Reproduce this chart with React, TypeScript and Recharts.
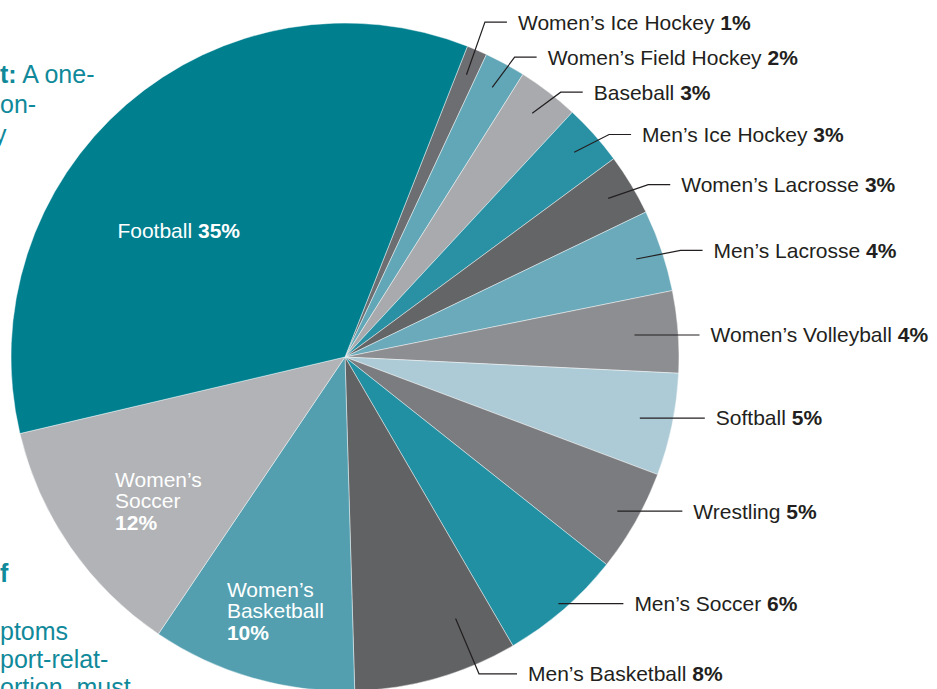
import { PieChart, Pie, Cell } from 'recharts';

// clockwise from the top, starting with the thin slice right of Football
const sports = [
    'Women’s Ice Hockey',
    'Women’s Field Hockey',
    'Baseball',
    'Men’s Ice Hockey',
    'Women’s Lacrosse',
    'Men’s Lacrosse',
    'Women’s Volleyball',
    'Softball',
    'Wrestling',
    'Men’s Soccer',
    'Men’s Basketball',
    'Women’s Basketball',
    'Women’s Soccer',
    'Football',
];
const shares = [1, 2, 3, 3, 3, 4, 4, 5, 5, 6, 8, 10, 12, 35];
const sliceColors = [
    '#6d6e71',
    '#62a7b7',
    '#a8aaad',
    '#2a91a4',
    '#646567',
    '#6aaabb',
    '#8d8e91',
    '#adcbd6',
    '#7b7c7f',
    '#2190a3',
    '#616264',
    '#539fb0',
    '#b1b3b6',
    '#007f8f',
];

// cut-off sidebar text at the left edge of the page
const sideTop = [
    { bold: 't:', rest: ' A one-' },
    { bold: '', rest: 'on-' },
    { bold: '', rest: 'y' },
];
const sideBottom = [
    { bold: 'f', rest: '' },
    { bold: '', rest: 'ptoms' },
    { bold: '', rest: 'port-relat-' },
    { bold: '', rest: 'ortion, must' },
];

const data = sports.map((name, i) => ({ name, value: shares[i] }));

const CX = 345;
const CY = 357;
const R = 334;
const START = 68.5;
const RAD = Math.PI / 180;
const FONT = '"Liberation Sans", Arial, Helvetica, sans-serif';
const INK = '#231f20';
const TEAL = '#10899a';

// how far (clockwise, degrees) a label is nudged off the slice middle
const labelShift: Record<string, number> = {
    Football: -20,
    'Women’s Soccer': 6.6,
    'Women’s Basketball': 10.8,
    'Men’s Basketball': -7,
};

const polar = (r: number, deg: number) => [
    CX + r * Math.cos(-deg * RAD),
    CY + r * Math.sin(-deg * RAD),
];
const clockwise = (mid: number) => (((90 - mid) % 360) + 360) % 360;

// y of each outside label, pushed apart near the top so they don't collide
const total = shares.reduce((a, b) => a + b, 0);
const outerY = (() => {
    let a = START;
    const mids = shares.map((v) => {
        const span = (v / total) * 360;
        const m = a - span / 2;
        a -= span;
        return m;
    });
    const ys = mids.map((m) => polar(R, m)[1]);
    for (let i = ys.length - 2; i >= 0; i--) {
        if (clockwise(mids[i]) < 80 && clockwise(mids[i + 1]) < 80) {
            ys[i] = Math.min(ys[i], ys[i + 1] - 35);
        }
    }
    return ys;
})();

const renderLabel = (props: any) => {
    const { name, value, index } = props;
    const midAngle = props.midAngle - (labelShift[name] ?? 0);
    const cw = clockwise(midAngle);

    if (value >= 10) {
        const [x, y] = polar(R * 0.78, midAngle);
        const words = name.includes(' ') ? name.split(' ') : null;
        if (!words) {
            return (
                <text x={x} y={y} dy="0.35em" fill="#fff" fontSize={21} fontFamily={FONT}>
                    {name} <tspan fontWeight="bold">{value}%</tspan>
                </text>
            );
        }
        return (
            <text x={x} y={y} fill="#fff" fontSize={21} fontFamily={FONT}>
                {words.map((w: string, i: number) => (
                    <tspan key={w} x={x} dy={i === 0 ? '0.35em' : 21.5}>
                        {w}
                    </tspan>
                ))}
                <tspan x={x} dy={21.5} fontWeight="bold">
                    {value}%
                </tspan>
            </text>
        );
    }

    let points: number[][];
    if (cw > 80 && cw < 150) {
        // right-hand labels: a plain horizontal leader
        const [sx, sy] = polar(R * (0.87 + 0.002 * (cw - 86)), midAngle);
        points = [
            [sx, sy],
            [sx + 65, sy],
        ];
    } else {
        const bottom = cw > 150;
        const [sx, sy] = polar(R * (bottom ? 0.85 : 0.92), midAngle);
        const [ex, eyBase] = polar(R * (bottom ? 1.03 : 1.06), midAngle);
        const ey = bottom ? eyBase : outerY[index];
        points = [
            [sx, sy],
            [ex, ey],
            [ex + (bottom ? 38 : 22), ey],
        ];
    }
    const [tx, ty] = points[points.length - 1];

    return (
        <g>
            <polyline
                points={points.map((p) => p.join(',')).join(' ')}
                fill="none"
                stroke={INK}
                strokeWidth={1.2}
            />
            <text x={tx + 11} y={ty} dy="0.35em" fill={INK} fontSize={21} fontFamily={FONT}>
                {name} <tspan fontWeight="bold">{value}%</tspan>
            </text>
        </g>
    );
};

export default function App() {
    return (
        <div style={{ position: 'absolute', left: 0, top: 0, width: 937, height: 689, overflow: 'hidden', background: '#fff' }}>
            <PieChart width={937} height={689} margin={{ top: 0, right: 0, bottom: 0, left: 0 }}>
                <Pie
                    data={data}
                    dataKey="value"
                    nameKey="name"
                    cx={CX}
                    cy={CY}
                    outerRadius={R}
                    startAngle={START}
                    endAngle={START - 360}
                    stroke="rgba(255,255,255,0.55)"
                    strokeWidth={0.8}
                    label={renderLabel}
                    labelLine={false}
                    isAnimationActive={false}
                >
                    {data.map((d, i) => (
                        <Cell key={d.name} fill={sliceColors[i]} />
                    ))}
                </Pie>
            </PieChart>
            <svg width={937} height={689} style={{ position: 'absolute', left: 0, top: 0, pointerEvents: 'none' }}>
                {sideTop.map((l, i) => (
                    <text key={'t' + i} x={i === 2 ? -6 : 0} y={83 + i * 30} fill={TEAL} fontSize={25} fontFamily={FONT}>
                        <tspan fontWeight="bold">{l.bold}</tspan>
                        {l.rest}
                    </text>
                ))}
                {sideBottom.map((l, i) => (
                    <text key={'b' + i} x={0} y={i === 0 ? 582 : 612 + i * 28} fill={TEAL} fontSize={25} fontFamily={FONT}>
                        <tspan fontWeight="bold">{l.bold}</tspan>
                        {l.rest}
                    </text>
                ))}
            </svg>
        </div>
    );
}
